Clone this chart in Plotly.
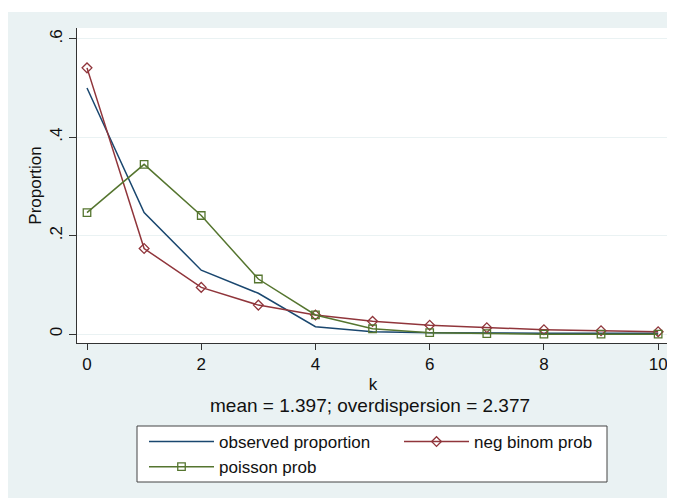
import plotly.graph_objects as go

k = list(range(11))
observed = [0.500, 0.247, 0.130, 0.083, 0.015, 0.005, 0.003, 0.002, 0.002, 0.002, 0.002]
negbin = [0.541, 0.174, 0.095, 0.059, 0.039, 0.026, 0.018, 0.013, 0.009, 0.007, 0.005]
poisson = [0.247, 0.345, 0.241, 0.112, 0.039, 0.011, 0.003, 0.001, 0.000, 0.000, 0.000]
y_ticks = [0, 0.2, 0.4, 0.6]
y_labels = ["0", ".2", ".4", ".6"]
x_ticks = [0, 2, 4, 6, 8, 10]
note = "mean = 1.397; overdispersion = 2.377"

NAVY = "#1a476f"
MAROON = "#90353b"
GREEN = "#55752f"
BG = "#eaf2f3"
FONT = "Liberation Sans, Arial, sans-serif"

# page body has an 8px margin, so the figure is sized/positioned accordingly
W, H = 664, 490
ml, mr, mt, mb = 69, 3, 20, 155

fig = go.Figure()
fig.add_trace(go.Scatter(x=k, y=observed, mode="lines", name="observed proportion",
                         line=dict(color=NAVY, width=1.5), legend="legend",
                         legendrank=1))
fig.add_trace(go.Scatter(x=k, y=negbin, mode="lines+markers", name="neg binom prob",
                         line=dict(color=MAROON, width=1.5), legend="legend2",
                         marker=dict(symbol="diamond-open", size=7.5, color=MAROON,
                                     line=dict(width=1.3, color=MAROON))))
fig.add_trace(go.Scatter(x=k, y=poisson, mode="lines+markers", name="poisson prob",
                         line=dict(color=GREEN, width=1.5), legend="legend",
                         legendrank=2,
                         marker=dict(symbol="square-open", size=7.5, color=GREEN,
                                     line=dict(width=1.3, color=GREEN))))

pw = W - ml - mr
ph = H - mt - mb


def px(x):
    return (x - ml) / pw


def py(y):
    return 1 - (y - mt) / ph


# thin white strip at the top (outside plot area)
fig.add_shape(type="rect", xref="paper", yref="paper",
              x0=px(0), x1=px(W), y0=py(4), y1=py(0),
              fillcolor="white", line=dict(width=0), layer="below")
# legend frame
fig.add_shape(type="rect", xref="paper", yref="paper",
              x0=px(129), x1=px(599), y0=py(474), y1=py(418),
              fillcolor="white", line=dict(width=1, color="#444"), layer="below")

fig.add_annotation(text=note, xref="paper", yref="paper", x=px(362),
                   y=py(397), showarrow=False,
                   font=dict(size=19, color="#111", family=FONT),
                   xanchor="center", yanchor="middle")

leg_common = dict(orientation="v", xanchor="left", yanchor="top",
                  bgcolor="rgba(0,0,0,0)", borderwidth=0,
                  font=dict(size=17, family=FONT, color="#111"),
                  itemwidth=65, tracegroupgap=0, traceorder="normal")

fig.update_layout(
    width=W, height=H,
    margin=dict(l=ml, r=mr, t=mt, b=mb, autoexpand=False),
    paper_bgcolor=BG, plot_bgcolor="white",
    font=dict(family=FONT, size=17, color="#111"),
    showlegend=True,
    legend=dict(x=px(136), y=py(416), **leg_common),
    legend2=dict(x=px(391), y=py(416), **leg_common),
)
fig.update_xaxes(range=[-0.175, 10.19], tickmode="array", tickvals=x_ticks,
                 ticks="outside", ticklen=6, tickcolor="#333", showline=True,
                 linecolor="#333", linewidth=1, showgrid=False, zeroline=False,
                 title=dict(text="k", standoff=4, font=dict(size=17)),
                 tickfont=dict(size=17))
fig.update_yaxes(range=[-0.018, 0.622], tickmode="array", tickvals=y_ticks,
                 ticktext=y_labels, tickangle=-90,
                 ticks="outside", ticklen=7, tickcolor="#333", showline=True,
                 linecolor="#333", linewidth=1, showgrid=True, gridcolor=BG,
                 gridwidth=1, zeroline=False,
                 title=dict(text="Proportion", standoff=1, font=dict(size=17)),
                 tickfont=dict(size=17))

fig.write_html("out.html")
